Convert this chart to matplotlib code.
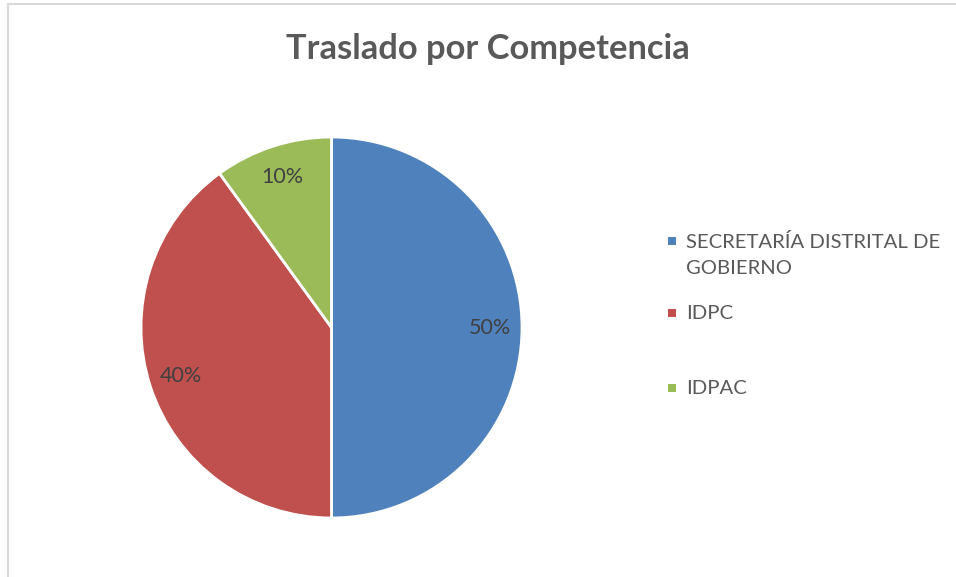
import matplotlib
matplotlib.use("Agg")
import matplotlib.pyplot as plt
from matplotlib.patches import Rectangle

plt.rcParams["font.family"] = ["Lato", "DejaVu Sans"]

title = "Traslado por Competencia"
categories = ["SECRETARÍA DISTRITAL DE\nGOBIERNO", "IDPC", "IDPAC"]
shares = [50, 40, 10]
colors = ["#4F81BD", "#C0504D", "#9BBB59"]
text_color = "#595959"

W, H = 956, 577
fig = plt.figure(figsize=(W / 100, H / 100), dpi=100)

# chart-area border (runs off the right and bottom edges)
fig.patches.append(Rectangle((8 / W, -0.1), 1.2, (H - 4) / H + 0.1,
                             transform=fig.transFigure, fill=False,
                             edgecolor="#D9D9D9", linewidth=1.5))

cx, cy, r = 331.5, 327.5, 190.5
ax = fig.add_axes([(cx - r) / W, (H - cy - r) / H, 2 * r / W, 2 * r / H])
wedges, _, autotexts = ax.pie(
    shares, colors=colors, startangle=90, counterclock=False,
    autopct="%d%%", pctdistance=0.83, radius=1,
    wedgeprops=dict(edgecolor="white", linewidth=2),
    textprops=dict(color="#404040", fontsize=15.5))
ax.set_xlim(-1, 1)
ax.set_ylim(-1, 1)
ax.set_aspect("equal")
ax.axis("off")

fig.text(488 / W, 1 - 49 / H, title, ha="center", va="center",
         fontsize=24.8, fontweight="bold", color=text_color)

legend_y = [241, 313, 388]
for label, color, y in zip(categories, colors, legend_y):
    fig.patches.append(Rectangle((668 / W, 1 - (y + 4) / H), 8 / W, 8 / H,
                                 transform=fig.transFigure, facecolor=color,
                                 edgecolor="none"))
    fig.text(686 / W, 1 - (y - 8) / H, label, ha="left", va="top",
             fontsize=14.6, color=text_color, linespacing=1.62)

fig.savefig("out.png", dpi=100, facecolor="white")
